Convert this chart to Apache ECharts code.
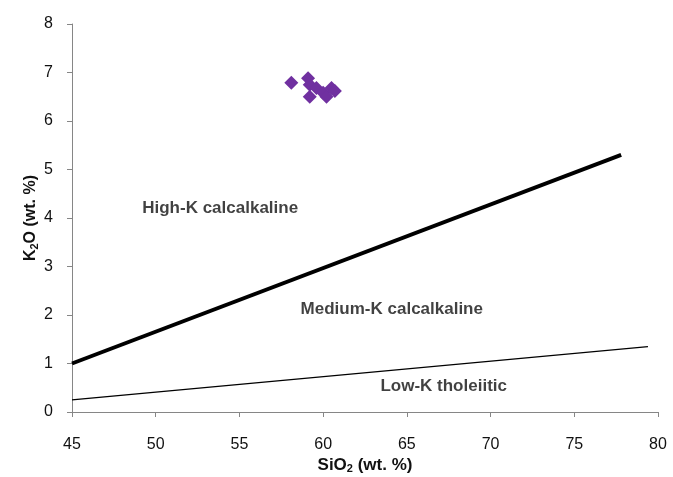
<!DOCTYPE html>
<html><head><meta charset="utf-8">
<script src="https://cdn.jsdelivr.net/npm/echarts@6/dist/echarts.min.js"></script>
<style>html,body{margin:0;padding:0;background:#fff}#c{width:673px;height:477px}</style>
</head><body><div id="c"></div>
<script>
var sampleSiO2 = [58.1, 59.1, 59.2, 59.2, 59.6, 60.0, 60.2, 60.5, 60.7];
var sampleK2O  = [6.79, 6.88, 6.75, 6.50, 6.68, 6.58, 6.50, 6.68, 6.62];
var highMedBoundaryX = [45, 77.8];
var highMedBoundaryY = [1.0, 5.3];
var medLowBoundaryX = [45, 79.4];
var medLowBoundaryY = [0.25, 1.35];
var fieldNames = ['High-K calcalkaline', 'Medium-K calcalkaline', 'Low-K tholeiitic'];
var fieldX = [53.85, 64.1, 67.2];
var fieldY = [4.2, 2.12, 0.52];
var xTicks = [45, 50, 55, 60, 65, 70, 75, 80];
var yTicks = [0, 1, 2, 3, 4, 5, 6, 7, 8];

var font = 'Liberation Sans';
var txt = '#111';
var chart = echarts.init(document.getElementById('c'));
chart.setOption({
  animation: false,
  grid: {left: 72, right: 15, top: 24, bottom: 65, containLabel: false, outerBoundsMode: 'none'},
  xAxis: {
    type: 'value', min: xTicks[0], max: xTicks[xTicks.length-1], interval: 5,
    splitLine: {show: false},
    axisLine: {lineStyle: {color: '#868686', width: 1}},
    axisTick: {show: true, length: 5, lineStyle: {color: '#868686'}},
    axisLabel: {color: txt, fontFamily: font, fontSize: 16, margin: 25},
    name: '{b|SiO}{s|2}{b| (wt. %)}', nameLocation: 'middle', nameGap: 44, nameMoveOverlap: false,
    nameTextStyle: {rich: {
      b: {fontFamily: font, fontWeight: 'bold', fontSize: 17, color: txt},
      s: {fontFamily: font, fontWeight: 'bold', fontSize: 11, color: txt, padding: [7,0,0,0]}
    }}
  },
  yAxis: {
    type: 'value', min: yTicks[0], max: yTicks[yTicks.length-1], interval: 1,
    splitLine: {show: false},
    axisLine: {show: true, lineStyle: {color: '#868686', width: 1}},
    axisTick: {show: true, length: 5, lineStyle: {color: '#868686'}},
    axisLabel: {color: txt, fontFamily: font, fontSize: 16, margin: 19},
    name: '{b|K}{s|2}{b|O (wt. %)}', nameLocation: 'middle', nameGap: 32, nameRotate: 90, nameMoveOverlap: false,
    nameTextStyle: {rich: {
      b: {fontFamily: font, fontWeight: 'bold', fontSize: 16, color: txt},
      s: {fontFamily: font, fontWeight: 'bold', fontSize: 11, color: txt, padding: [7,0,0,0]}
    }}
  },
  series: [
    {
      type: 'line', data: highMedBoundaryX.map(function(x,i){return [x, highMedBoundaryY[i]];}),
      symbol: 'none', lineStyle: {color: '#000', width: 4}, silent: true
    },
    {
      type: 'line', data: medLowBoundaryX.map(function(x,i){return [x, medLowBoundaryY[i]];}),
      symbol: 'none', lineStyle: {color: '#000', width: 1.3}, silent: true
    },
    {
      type: 'scatter', symbol: 'diamond', symbolSize: 14,
      itemStyle: {color: '#7030A0', opacity: 1},
      data: sampleSiO2.map(function(x,i){return [x, sampleK2O[i]];})
    },
    {
      type: 'scatter', symbolSize: 0, silent: true,
      data: fieldNames.map(function(n,i){return {value: [fieldX[i], fieldY[i]], name: n};}),
      label: {show: true, position: 'inside', formatter: '{b}', fontFamily: font, fontWeight: 'bold', fontSize: 17, color: txt}
    }
  ]
});
</script></body></html>
